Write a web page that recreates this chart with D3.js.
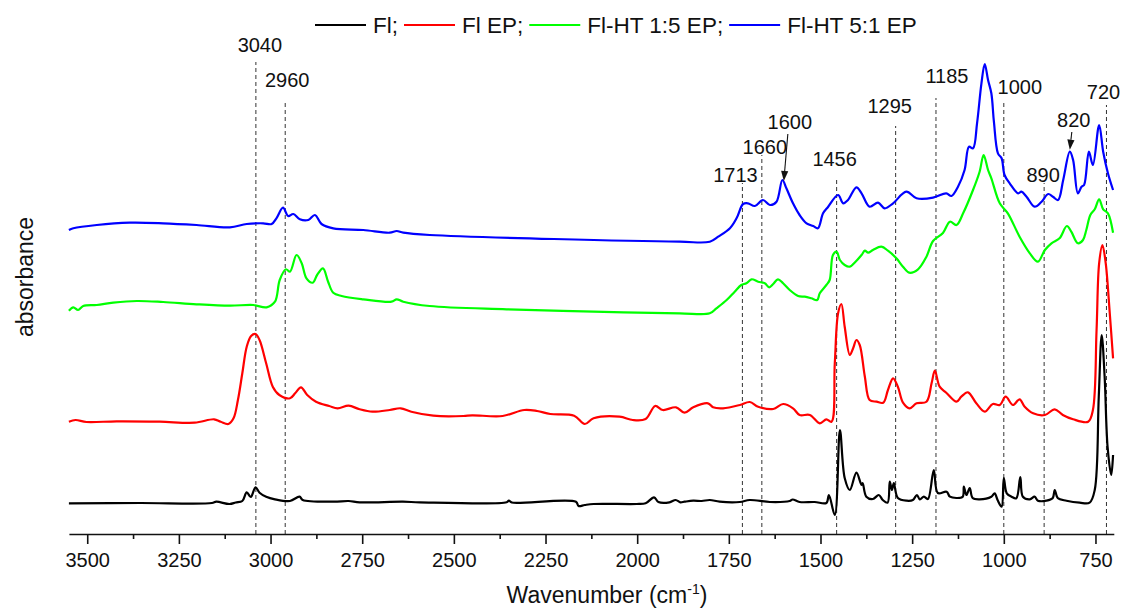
<!DOCTYPE html>
<html><head><meta charset="utf-8">
<script src="https://cdn.jsdelivr.net/npm/d3@7"></script>
<style>
html,body{margin:0;padding:0;background:#fff;}
svg{display:block;}
text{font-family:"Liberation Sans",Arial,sans-serif;fill:#111;}
</style></head><body>
<svg id="chart" width="1122" height="608"></svg>
<script>
// FTIR spectra, stacked with vertical offsets: [wavenumber (cm-1), absorbance (a.u.)]
const seriesNames = ["Fl;", "Fl EP;", "Fl-HT 1:5 EP;", "Fl-HT 5:1 EP"];
const seriesColors = ["#000000", "#ff0000", "#00ff00", "#0000ff"];

const flSpectrum = [[3550,0.307],[3356,0.31],[3160,0.31],[3148,0.323],[3112,0.30],[3095,0.315],[3077,0.33],[3065,0.417],[3054,0.37],[3041,0.467],[3030,0.413],[3012,0.373],[2988,0.347],[2947,0.33],[2921,0.373],[2912,0.34],[2828,0.323],[2787,0.33],[2757,0.317],[2639,0.323],[2593,0.317],[2356,0.317],[2350,0.333],[2342,0.315],[2167,0.323],[2160,0.28],[2143,0.29],[2119,0.30],[2001,0.30],[1977,0.307],[1954,0.367],[1942,0.32],[1912,0.317],[1895,0.34],[1882,0.317],[1871,0.323],[1847,0.333],[1824,0.33],[1802,0.34],[1775,0.323],[1720,0.32],[1693,0.34],[1638,0.32],[1584,0.33],[1576,0.345],[1557,0.32],[1516,0.32],[1484,0.31],[1477,0.39],[1461,0.19],[1447,1.04],[1434,0.56],[1420,0.44],[1402,0.613],[1388,0.49],[1385,0.51],[1375,0.373],[1357,0.35],[1341,0.39],[1330,0.34],[1317,0.313],[1311,0.523],[1305,0.44],[1300,0.51],[1289,0.36],[1265,0.333],[1248,0.34],[1237,0.39],[1229,0.347],[1218,0.373],[1207,0.35],[1191,0.64],[1180,0.41],[1156,0.423],[1147,0.373],[1129,0.36],[1112,0.373],[1109,0.473],[1102,0.39],[1093,0.46],[1085,0.36],[1066,0.347],[1034,0.373],[1025,0.407],[1017,0.34],[1006,0.273],[1000,0.56],[992,0.407],[979,0.373],[966,0.357],[955,0.57],[948,0.373],[929,0.347],[916,0.373],[907,0.333],[884,0.333],[867,0.357],[861,0.44],[853,0.36],[829,0.333],[793,0.313],[766,0.313],[752,0.44],[741,1.373],[733,1.99],[725,1.573],[717,0.873],[707,0.59],[702,0.79]];

const flEpSpectrum = [[3550,1.123],[3532,1.14],[3502,1.12],[3420,1.127],[3302,1.123],[3207,1.113],[3154,1.147],[3136,1.123],[3115,1.10],[3101,1.157],[3089,1.34],[3077,1.607],[3065,1.873],[3053,1.98],[3041,2.00],[3030,1.94],[3012,1.707],[2994,1.473],[2976,1.39],[2947,1.357],[2933,1.407],[2917,1.467],[2900,1.39],[2876,1.323],[2840,1.28],[2817,1.257],[2787,1.283],[2757,1.247],[2722,1.223],[2675,1.24],[2645,1.257],[2616,1.223],[2556,1.183],[2474,1.18],[2450,1.187],[2367,1.18],[2308,1.24],[2273,1.23],[2237,1.20],[2172,1.183],[2143,1.10],[2119,1.157],[2048,1.173],[2012,1.14],[1977,1.15],[1951,1.28],[1930,1.24],[1894,1.267],[1871,1.213],[1847,1.267],[1807,1.307],[1793,1.267],[1766,1.257],[1720,1.29],[1693,1.32],[1670,1.273],[1629,1.25],[1602,1.30],[1575,1.257],[1557,1.19],[1529,1.19],[1502,1.107],[1484,1.147],[1470,1.123],[1461,1.707],[1452,2.207],[1443,2.30],[1434,2.073],[1420,1.79],[1411,1.857],[1402,1.94],[1393,1.89],[1379,1.573],[1366,1.34],[1347,1.323],[1329,1.313],[1316,1.44],[1302,1.557],[1289,1.473],[1275,1.313],[1257,1.257],[1238,1.307],[1211,1.323],[1197,1.507],[1188,1.633],[1175,1.473],[1157,1.413],[1129,1.323],[1116,1.373],[1098,1.417],[1075,1.307],[1052,1.223],[1030,1.30],[1011,1.29],[995,1.373],[975,1.29],[957,1.347],[943,1.273],[920,1.207],[888,1.19],[861,1.247],[839,1.19],[811,1.147],[770,1.123],[757,1.24],[747,2.04],[740,2.707],[731,2.89],[722,2.707],[711,2.207],[702,1.757]];

const flHt15Spectrum = [[3550,2.233],[3538,2.267],[3525,2.24],[3511,2.28],[3474,2.29],[3429,2.313],[3365,2.33],[3293,2.32],[3202,2.297],[3111,2.283],[3047,2.29],[3011,2.267],[2988,2.323],[2975,2.54],[2958,2.647],[2947,2.623],[2929,2.79],[2915,2.707],[2902,2.557],[2885,2.513],[2873,2.59],[2857,2.657],[2843,2.523],[2829,2.413],[2806,2.38],[2747,2.347],[2670,2.323],[2656,2.347],[2638,2.323],[2566,2.28],[2356,2.247],[2119,2.223],[1884,2.207],[1802,2.207],[1784,2.257],[1756,2.34],[1734,2.423],[1716,2.49],[1702,2.507],[1688,2.547],[1670,2.523],[1652,2.507],[1640,2.467],[1629,2.50],[1616,2.547],[1602,2.507],[1584,2.44],[1561,2.38],[1543,2.373],[1525,2.357],[1509,2.34],[1502,2.407],[1484,2.49],[1475,2.54],[1466,2.79],[1456,2.823],[1447,2.74],[1434,2.69],[1420,2.673],[1407,2.713],[1388,2.79],[1379,2.833],[1370,2.813],[1357,2.84],[1334,2.873],[1316,2.833],[1293,2.757],[1275,2.673],[1258,2.613],[1234,2.647],[1211,2.773],[1193,2.93],[1166,3.01],[1147,3.123],[1129,3.09],[1111,3.207],[1084,3.44],[1066,3.623],[1055,3.79],[1043,3.64],[1034,3.557],[1011,3.307],[989,3.207],[957,2.973],[929,2.807],[907,2.723],[888,2.84],[870,2.907],[848,2.957],[828,3.08],[816,3.023],[798,2.907],[784,2.94],[775,3.04],[764,3.19],[752,3.247],[740,3.347],[729,3.247],[716,3.207],[702,3.013]];

const flHt51Spectrum = [[3550,3.04],[3538,3.057],[3474,3.09],[3384,3.113],[3293,3.107],[3202,3.09],[3111,3.067],[3065,3.10],[3020,3.107],[2997,3.10],[2984,3.157],[2966,3.263],[2952,3.18],[2938,3.20],[2920,3.147],[2897,3.14],[2879,3.19],[2861,3.10],[2829,3.057],[2747,3.04],[2675,3.013],[2656,3.03],[2638,3.013],[2566,2.99],[1884,2.923],[1802,2.923],[1779,2.973],[1747,3.057],[1729,3.157],[1711,3.30],[1698,3.307],[1679,3.28],[1657,3.34],[1638,3.29],[1620,3.323],[1604,3.54],[1593,3.457],[1575,3.307],[1557,3.19],[1538,3.107],[1520,3.08],[1507,3.057],[1493,3.207],[1479,3.273],[1452,3.39],[1438,3.307],[1425,3.34],[1402,3.467],[1388,3.407],[1366,3.273],[1343,3.313],[1325,3.257],[1302,3.307],[1266,3.423],[1238,3.357],[1193,3.363],[1157,3.407],[1143,3.38],[1125,3.473],[1107,3.64],[1095,3.873],[1084,3.857],[1073,4.107],[1061,4.507],[1052,4.70],[1043,4.54],[1034,4.407],[1027,4.123],[1016,3.807],[1006,3.757],[998,3.59],[984,3.507],[961,3.407],[952,3.423],[938,3.373],[916,3.273],[897,3.323],[879,3.40],[866,3.373],[852,3.34],[838,3.54],[820,3.823],[811,3.74],[798,3.407],[788,3.473],[781,3.49],[768,3.823],[757,3.69],[740,4.09],[729,3.823],[716,3.607],[702,3.44]];

// Band assignments marked on the plot
const peakWavenumbers = [3040, 2960, 1713, 1660, 1600, 1456, 1295, 1185, 1000, 890, 820, 720];
const peakLabelLevels = [4.89, 4.54, 3.59, 3.87, 4.12, 3.75, 4.28, 4.58, 4.47, 3.59, 4.14, 4.42];
const peakLineTops    = [4.72, 4.31, 3.51, 3.79, null, 3.56, 4.08, 4.36, 4.32, 3.51, null, 4.29];
const arrowPeaks = [1600, 820];

const majorTicks = [3500, 3250, 3000, 2750, 2500, 2250, 2000, 1750, 1500, 1250, 1000, 750];
const minorTicks = [3375, 3125, 2875, 2625, 2375, 2125, 1875, 1625, 1375, 1125, 875];

// ---- layout ----
const labelShift = [4, 2, -7, 3, 6, -2, -6, 11, 16, -1, 4, -3];
const spectra = [flSpectrum, flEpSpectrum, flHt15Spectrum, flHt51Spectrum];
const svg = d3.select("#chart");
const x = d3.scaleLinear().domain([3550, 700]).range([68.9, 1113.8]);
const y = d3.scaleLinear().domain([0, 5]).range([534, 34]);

// value of a spectrum at a given wavenumber (linear between readings)
function valueAt(spec, w) {
  for (let i = 0; i < spec.length - 1; i++) {
    const [w0, a0] = spec[i], [w1, a1] = spec[i + 1];
    if (w <= w0 && w >= w1) return a0 + (a1 - a0) * (w0 - w) / (w0 - w1);
  }
  return spec[spec.length - 1][1];
}

// dashed band markers
const marks = svg.append("g");
peakWavenumbers.forEach((w, i) => {
  const px = x(w);
  const ly = y(peakLabelLevels[i]);
  marks.append("text")
    .attr("x", px + labelShift[i]).attr("y", ly).attr("dy", "0.35em")
    .attr("text-anchor", "middle").attr("font-size", 20).text(w);
  if (peakLineTops[i] !== null) {
    marks.append("line")
      .attr("x1", px).attr("x2", px).attr("y1", y(0)).attr("y2", y(peakLineTops[i]))
      .attr("stroke", "#333").attr("stroke-width", 1).attr("stroke-dasharray", "4,3");
  }
});

// spectra
const line = d3.line().x(d => x(d[0])).y(d => y(d[1])).curve(d3.curveCatmullRom.alpha(0.5));
svg.append("g").selectAll("path").data(spectra).join("path")
  .attr("d", line).attr("fill", "none")
  .attr("stroke", (d, i) => seriesColors[i]).attr("stroke-width", 2.2)
  .attr("stroke-linejoin", "round");

// arrows pointing at bands of the Fl-HT 5:1 EP spectrum
arrowPeaks.forEach(w => {
  const i = peakWavenumbers.indexOf(w);
  const x0 = x(w) + labelShift[i] - 2, y0 = y(peakLabelLevels[i]) + 12;
  const x1 = x(w), y1 = y(valueAt(flHt51Spectrum, w)) - 2;
  const ang = Math.atan2(y1 - y0, x1 - x0);
  const hl = 10, hw = 3.6;
  const bx = x1 - hl * Math.cos(ang), by = y1 - hl * Math.sin(ang);
  svg.append("line").attr("x1", x0).attr("y1", y0).attr("x2", bx).attr("y2", by)
    .attr("stroke", "#111").attr("stroke-width", 1.1);
  svg.append("path")
    .attr("d", `M${x1},${y1}L${bx + hw * Math.sin(ang)},${by - hw * Math.cos(ang)}L${bx - hw * Math.sin(ang)},${by + hw * Math.cos(ang)}Z`)
    .attr("fill", "#111");
});

// x axis
const gx = svg.append("g").attr("transform", `translate(0,${y(0)})`)
  .call(d3.axisBottom(x).tickValues(majorTicks).tickSize(10).tickSizeOuter(0).tickPadding(9).tickFormat(d3.format("d")));
gx.attr("font-family", '"Liberation Sans",Arial,sans-serif').attr("font-size", 20);
gx.select(".domain").attr("stroke", "#111").attr("stroke-width", 1.6);
gx.selectAll(".tick line").attr("stroke", "#111").attr("stroke-width", 1.6);
gx.selectAll(".tick text").attr("fill", "#111");
const gm = svg.append("g").attr("transform", `translate(0,${y(0)})`)
  .call(d3.axisBottom(x).tickValues(minorTicks).tickSize(5).tickFormat(""));
gm.select(".domain").remove();
gm.selectAll(".tick line").attr("stroke", "#111").attr("stroke-width", 1.6);

// axis titles
const xt = svg.append("text").attr("x", 607).attr("y", 603).attr("text-anchor", "middle").attr("font-size", 23);
xt.append("tspan").text("Wavenumber (cm");
xt.append("tspan").attr("font-size", 14).attr("dy", -9).text("-1");
xt.append("tspan").attr("dy", 9).text(")");
svg.append("text").attr("transform", "translate(33,277) rotate(-90)")
  .attr("text-anchor", "middle").attr("font-size", 23).text("absorbance");

// legend
const lg = svg.append("g").attr("transform", "translate(0,25)");
let cursor = 315;
seriesNames.forEach((name, i) => {
  lg.append("line").attr("x1", cursor).attr("x2", cursor + 51).attr("y1", 0).attr("y2", 0)
    .attr("stroke", seriesColors[i]).attr("stroke-width", 2.2);
  const t = lg.append("text").attr("x", cursor + 58).attr("y", 0).attr("dy", "0.35em")
    .attr("font-size", 22.5).text(name);
  cursor = cursor + 58 + t.node().getComputedTextLength() + 6;
});
</script>
</body></html>
